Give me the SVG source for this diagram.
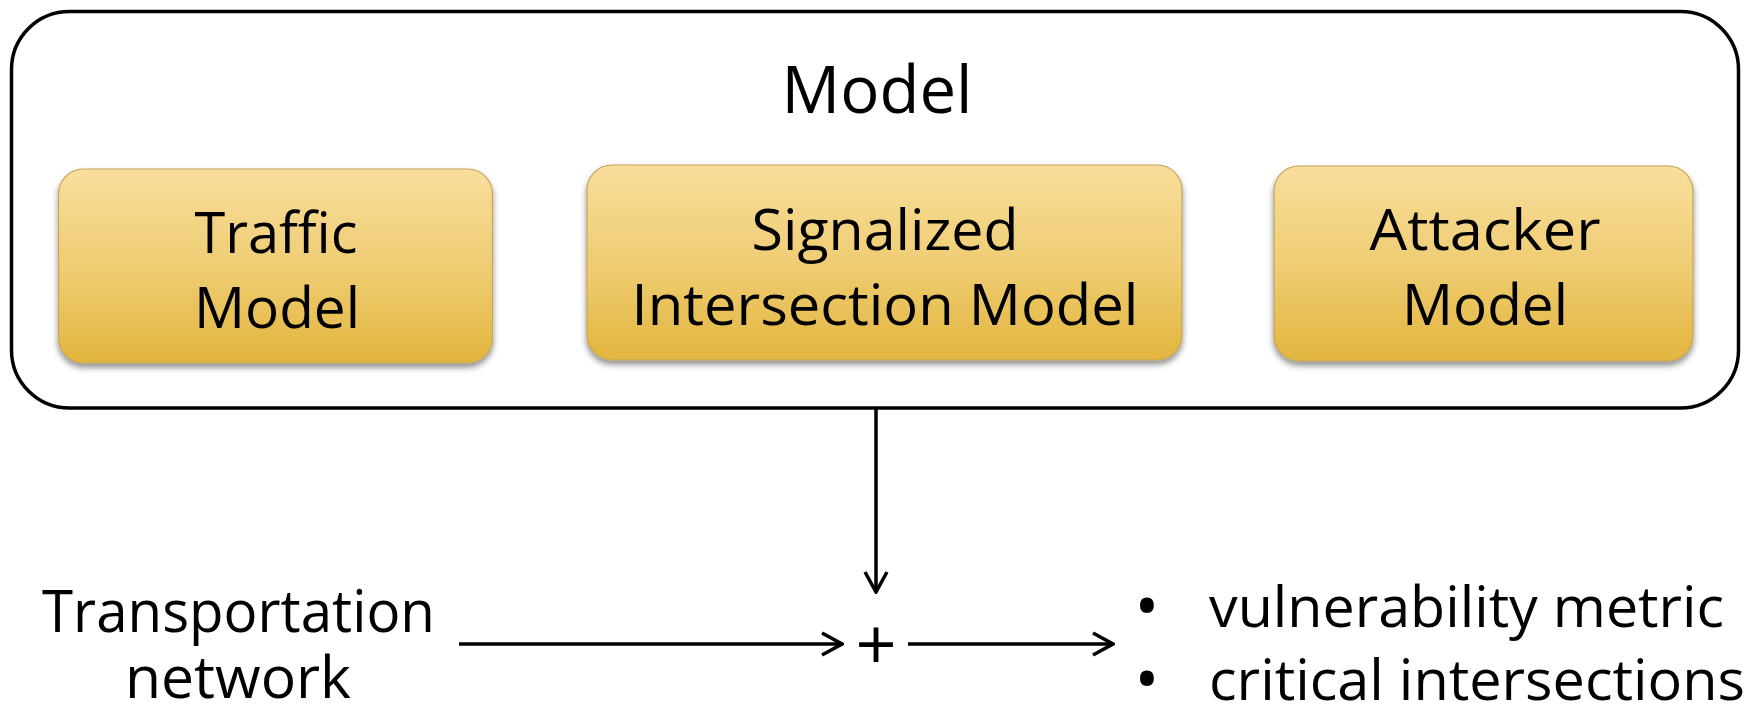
<svg xmlns="http://www.w3.org/2000/svg" width="1763" height="708" viewBox="0 0 1763 708">
  <style>
    .txt { font-family: "Open Sans", "Liberation Sans", sans-serif; fill: #000; }
    .box { fill: url(#gold); stroke: #c4a45a; stroke-width: 1.2; filter: url(#shadow); }
    .wire { stroke: #000; stroke-width: 3.5; fill: none; }
  </style>
  <defs>
    <linearGradient id="gold" x1="0" y1="0" x2="0" y2="1">
      <stop offset="0" stop-color="#f9de9c"/>
      <stop offset="0.5" stop-color="#efcd74"/>
      <stop offset="1" stop-color="#e2b53e"/>
    </linearGradient>
    <filter id="shadow" x="-5%" y="-10%" width="110%" height="125%">
      <feGaussianBlur in="SourceAlpha" stdDeviation="3"/>
      <feOffset dx="0" dy="4" result="b"/>
      <feComponentTransfer in="b" result="s"><feFuncA type="linear" slope="0.45"/></feComponentTransfer>
      <feMerge><feMergeNode in="s"/><feMergeNode in="SourceGraphic"/></feMerge>
    </filter>
    <marker id="chev" markerUnits="userSpaceOnUse" viewBox="-24 -13 26 26" refX="0" refY="0" markerWidth="26" markerHeight="26" orient="auto">
      <path d="M-20,-11 L0,0 L-20,11" fill="none" stroke="#000" stroke-width="3.5" stroke-linejoin="miter"/>
    </marker>
  </defs>

  <!-- container -->
  <g id="model">
    <rect x="11.5" y="11.5" width="1727" height="396.5" rx="58" fill="#fff" stroke="#000" stroke-width="3.5"/>
    <text class="txt" x="877" y="113" font-size="66" text-anchor="middle" textLength="191" lengthAdjust="spacingAndGlyphs">Model</text>
  </g>

  <g id="traffic-model">
    <rect class="box" x="58.5" y="169" width="434" height="194" rx="25"/>
    <text class="txt" x="276" y="253" font-size="57" text-anchor="middle" textLength="163" lengthAdjust="spacingAndGlyphs">Traffic</text>
    <text class="txt" x="277" y="328" font-size="57" text-anchor="middle" textLength="166" lengthAdjust="spacingAndGlyphs">Model</text>
  </g>

  <g id="signalized-intersection-model">
    <rect class="box" x="587" y="165" width="595" height="195" rx="25"/>
    <text class="txt" x="885" y="250" font-size="57" text-anchor="middle" textLength="267" lengthAdjust="spacingAndGlyphs">Signalized</text>
    <text class="txt" x="885" y="325" font-size="57" text-anchor="middle" textLength="507" lengthAdjust="spacingAndGlyphs">Intersection Model</text>
  </g>

  <g id="attacker-model">
    <rect class="box" x="1274" y="166" width="419" height="195" rx="25"/>
    <text class="txt" x="1485" y="250" font-size="57" text-anchor="middle" textLength="231" lengthAdjust="spacingAndGlyphs">Attacker</text>
    <text class="txt" x="1485" y="325" font-size="57" text-anchor="middle" textLength="166" lengthAdjust="spacingAndGlyphs">Model</text>
  </g>

  <g id="transportation-network">
    <text class="txt" x="42" y="632" font-size="58" textLength="393" lengthAdjust="spacingAndGlyphs">Transportation</text>
    <text class="txt" x="238" y="698" font-size="58" text-anchor="middle" textLength="226" lengthAdjust="spacingAndGlyphs">network</text>
  </g>

  <g id="combine">
    <text class="txt" x="876" y="670" font-size="72" font-weight="500" text-anchor="middle">+</text>
  </g>

  <g id="outputs">
    <text class="txt" x="1147" y="629" font-size="66" text-anchor="middle">•</text>
    <text class="txt" x="1147" y="702" font-size="66" text-anchor="middle">•</text>
    <text class="txt" x="1209" y="627" font-size="57" textLength="515" lengthAdjust="spacingAndGlyphs">vulnerability metric</text>
    <text class="txt" x="1209" y="700" font-size="57" textLength="536" lengthAdjust="spacingAndGlyphs">critical intersections</text>
  </g>

  <g id="connectors">
    <line class="wire" x1="876" y1="409" x2="876" y2="592" marker-end="url(#chev)"/>
    <line class="wire" x1="459" y1="644" x2="842" y2="644" marker-end="url(#chev)"/>
    <line class="wire" x1="908" y1="644" x2="1113" y2="644" marker-end="url(#chev)"/>
  </g>
</svg>
